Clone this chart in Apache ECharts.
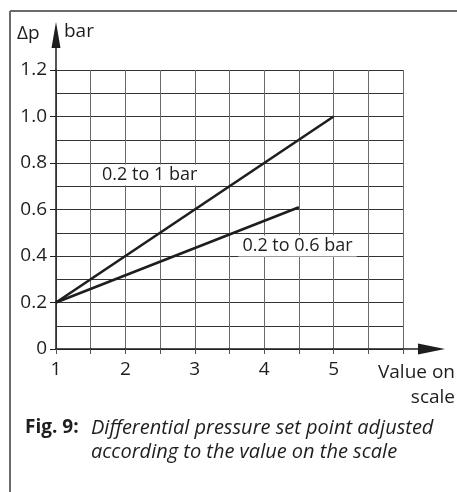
<!DOCTYPE html>
<html style="height: 100%">
<head>
  <meta charset="utf-8">
</head>
<body style="height: 100%; margin: 0; background: #fff">
  <div id="container" style="width: 457px; height: 492px"></div>

  <script type="text/javascript" src="https://cdn.jsdelivr.net/npm/echarts@6/dist/echarts.min.js"></script>
  <script type="text/javascript">
    // values
    var xTicks = [1, 2, 3, 4, 5];
    var yTicks = [0, 0.2, 0.4, 0.6, 0.8, 1.0, 1.2];
    var lineWide = [[1, 0.2], [5, 1.0]];
    var lineNarrow = [[1, 0.2], [4.5, 0.61]];
    var seriesNames = ['0.2 to 1 bar', '0.2 to 0.6 bar'];
    var labelWide = [2.35, 0.748];
    var labelNarrow = [4.48, 0.443];

    var font = '"Open Sans"';
    var ink = '#1e1e1e';

    var dom = document.getElementById('container');
    var myChart = echarts.init(dom, null, { renderer: 'canvas' });

    function curveLabel(coord, name) {
      return {
        symbol: 'rect',
        symbolSize: 1,
        itemStyle: { color: 'rgba(0,0,0,0)' },
        label: {
          show: true,
          position: 'inside',
          formatter: name,
          color: ink,
          fontFamily: font,
          fontSize: 18,
          backgroundColor: '#fff',
          padding: [2, 4, 1, 4]
        },
        data: [{ coord: coord }]
      };
    }

    var option = {
      animation: false,
      title: [
        {
          text: 'Fig. 9:',
          left: 20,
          top: 411,
          textStyle: { fontFamily: font, fontSize: 19, fontWeight: 'bold', color: ink, lineHeight: 24 }
        },
        {
          text: 'Differential pressure set point adjusted\naccording to the value on the scale',
          left: 86,
          top: 411,
          textStyle: {
            fontFamily: font, fontSize: 20, fontStyle: 'italic', fontWeight: 'normal',
            color: ink, lineHeight: 24
          }
        }
      ],
      grid: { left: 56, top: 70, right: 54, bottom: 143 },
      xAxis: {
        type: 'value',
        min: 1,
        max: 6,
        interval: 1,
        axisLine: { show: true, onZero: false, lineStyle: { color: ink, width: 1.5 } },
        axisTick: { show: true, length: 5, lineStyle: { color: '#555' } },
        minorTick: { show: true, splitNumber: 2, length: 5, lineStyle: { color: '#555' } },
        splitLine: { show: true, lineStyle: { color: '#6a6a6a', width: 1 } },
        minorSplitLine: { show: true, lineStyle: { color: '#6a6a6a', width: 1 } },
        axisLabel: {
          margin: 11,
          fontFamily: font,
          fontSize: 19,
          color: ink,
          formatter: function (v) { return xTicks.indexOf(v) >= 0 ? String(v) : ''; }
        }
      },
      yAxis: {
        type: 'value',
        min: 0,
        max: 1.2,
        interval: 0.2,
        axisLine: { show: true, onZero: false, lineStyle: { color: ink, width: 1.5 } },
        axisTick: { show: true, length: 6, lineStyle: { color: ink } },
        splitLine: { show: true, lineStyle: { color: '#333', width: 1 } },
        minorSplitLine: { show: true, lineStyle: { color: '#333', width: 1 } },
        minorTick: { show: false, splitNumber: 2 },
        axisLabel: {
          margin: 9,
          fontFamily: font,
          fontSize: 19,
          color: ink,
          formatter: function (v) {
            for (var i = 0; i < yTicks.length; i++) {
              if (Math.abs(yTicks[i] - v) < 1e-6) return v === 0 ? '0' : yTicks[i].toFixed(1);
            }
            return '';
          }
        }
      },
      series: [
        {
          name: seriesNames[0],
          type: 'line',
          data: lineWide,
          symbol: 'none',
          lineStyle: { color: ink, width: 2.6 },
          markPoint: curveLabel(labelWide, seriesNames[0]),
          z: 5
        },
        {
          name: seriesNames[1],
          type: 'line',
          data: lineNarrow,
          symbol: 'none',
          lineStyle: { color: ink, width: 2.6 },
          markPoint: curveLabel(labelNarrow, seriesNames[1]),
          z: 5
        }
      ]
    };

    myChart.setOption(option);

    // arrows, axis titles and frame around the figure
    var origin = myChart.convertToPixel({ gridIndex: 0 }, [1, 0]);
    var xEnd = myChart.convertToPixel({ gridIndex: 0 }, [6, 0]);
    var yEnd = myChart.convertToPixel({ gridIndex: 0 }, [1, 1.2]);

    myChart.setOption({
      graphic: [
        { type: 'line', shape: { x1: 10, y1: 11, x2: 457, y2: 11 }, style: { stroke: '#6b6b6b', lineWidth: 2 } },
        { type: 'line', shape: { x1: 10, y1: 11, x2: 10, y2: 492 }, style: { stroke: '#6b6b6b', lineWidth: 2 } },
        { type: 'line', shape: { x1: xEnd[0], y1: origin[1], x2: 422, y2: origin[1] }, style: { stroke: ink, lineWidth: 1.5 } },
        { type: 'polygon', shape: { points: [[418, origin[1] - 5.5], [445, origin[1]], [418, origin[1] + 5.5]] }, style: { fill: ink } },
        { type: 'line', shape: { x1: origin[0], y1: yEnd[1], x2: origin[0], y2: 45 }, style: { stroke: ink, lineWidth: 1.5 } },
        { type: 'polygon', shape: { points: [[origin[0] - 4.5, 48], [origin[0], 22], [origin[0] + 4.5, 48]] }, style: { fill: ink } },
        { type: 'text', x: 17, y: 34, style: { text: '\u0394p', font: '19px ' + font, fill: ink, verticalAlign: 'middle' } },
        { type: 'text', x: 64, y: 32, style: { text: 'bar', font: '19px ' + font, fill: ink, verticalAlign: 'middle' } },
        { type: 'text', x: 455, y: 373, style: { text: 'Value on', font: '19px ' + font, fill: ink, align: 'right', verticalAlign: 'middle' } },
        { type: 'text', x: 455, y: 398, style: { text: 'scale', font: '19px ' + font, fill: ink, align: 'right', verticalAlign: 'middle' } }
      ]
    });
  </script>
</body>
</html>
